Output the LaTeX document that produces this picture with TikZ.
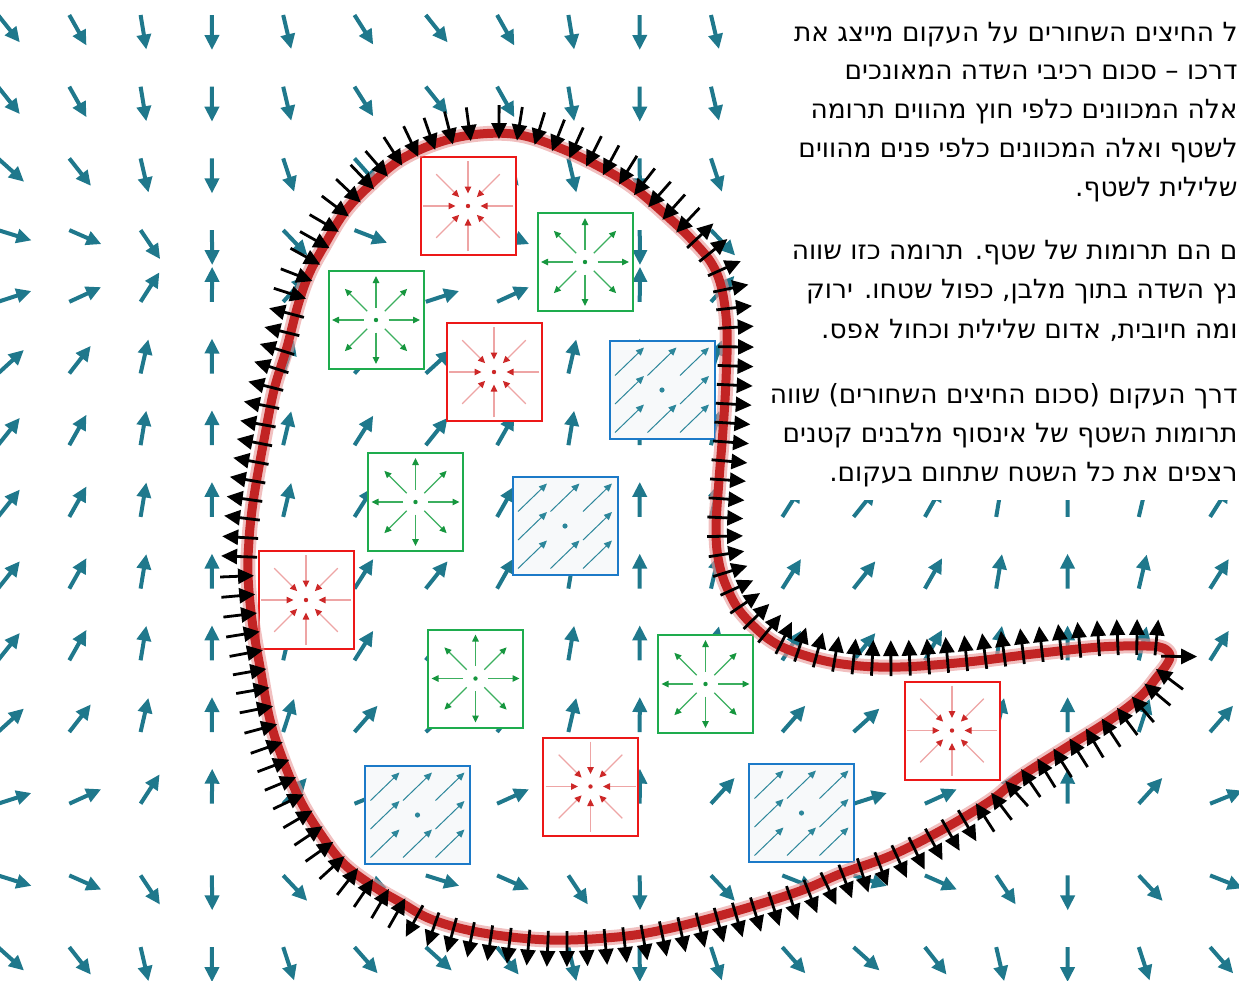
\documentclass[tikz,border=0pt]{standalone}
\usepackage{fontspec}
\newfontfamily\hebfont[Script=Hebrew]{DejaVu Sans}
\TeXXeTstate=1
\usetikzlibrary{arrows.meta}

\definecolor{fieldteal}{RGB}{31,120,140}
\definecolor{curvered}{RGB}{194,36,36}
\definecolor{curveglow}{RGB}{232,150,150}
\definecolor{sinkred}{RGB}{236,24,24}
\definecolor{sinkline}{RGB}{238,165,165}
\definecolor{sinkhead}{RGB}{205,40,40}
\definecolor{sourcegreen}{RGB}{30,172,78}
\definecolor{sourceline}{RGB}{60,175,95}
\definecolor{sourcehead}{RGB}{22,150,62}
\definecolor{flatblue}{RGB}{28,122,200}
\definecolor{flatfill}{RGB}{247,249,250}
\definecolor{flatteal}{RGB}{45,135,155}

\begin{document}
\begin{tikzpicture}[x=0.5pt,y=-0.5pt,
    declare function={
        fu(\x)=0.4*(1-cos((\x-205)/428*360));
        fw(\x)=0.4*(1-cos((\x-205-53*min(1,max(0,(520-\x)/80)))/428*360));
        fv(\y)=sin((\y-265)/1150*360);
        fs(\y)=max(-1,min(1,1.3*fv(\y)));
    },
    fieldarrow/.style={line width=2pt, fieldteal, -{Triangle[length=7.5pt,width=7pt]}},
    fluxarrow/.style={line width=1.4pt, black, -{Triangle[length=8pt,width=7.5pt]}},
    sinkbox/.style={draw=sinkred, fill=white, line width=1pt,
        minimum width=47.5pt, minimum height=49pt, inner sep=0pt},
    sourcebox/.style={sinkbox, draw=sourcegreen},
    flatbox/.style={sinkbox, draw=flatblue, fill=flatfill, minimum width=52.5pt},
    sinkarrow/.style={line width=0.6pt, sinkline, -{Triangle[length=3.5pt,width=3.2pt,color=sinkhead]}},
    sourcearrow/.style={line width=0.6pt, sourceline, -{Triangle[length=3.5pt,width=3.2pt,color=sourcehead]}},
    flatarrow/.style={line width=0.5pt, flatteal, -{Triangle[length=4pt,width=3.5pt]}},
    glowline/.style={line width=7.5pt, curveglow, opacity=.6, line join=round},
    curveline/.style={line width=4.5pt, curvered, line join=round},
    hebtext/.style={anchor=base east, inner sep=0pt,
        font=\hebfont\fontsize{13.2pt}{16pt}\selectfont}
]
    \useasboundingbox (0,0) rectangle (1239,981);

    % vector field
    \foreach \i in {0,...,17}
        \foreach \j in {0,...,13}{
            \pgfmathsetmacro\fx{-2+71.3*\i}
            \pgfmathsetmacro\fy{15+71.7*\j}
            \pgfmathsetmacro\fa{-atan2(fs(\fy),fu(\fx))}
            \draw[fieldarrow] (\fx,\fy) -- ++(\fa:35);
        }

    % background of the text
    \fill[white] (768,-5) rectangle (1245,500);

    % small squares
    \node[sinkbox] (r1) at (468,206) {};
    \node[sinkbox] (r2) at (494,372) {};
    \node[sinkbox] (r3) at (306,600) {};
    \node[sinkbox] (r4) at (590.5,786.5) {};
    \node[sinkbox] (r5) at (952,730.5) {};
    \node[sourcebox] (g1) at (585,262) {};
    \node[sourcebox] (g2) at (376,320) {};
    \node[sourcebox] (g3) at (415.5,502) {};
    \node[sourcebox] (g4) at (475.5,678.5) {};
    \node[sourcebox] (g5) at (705.5,684) {};
    \node[flatbox] (b1) at (662,390) {};
    \node[flatbox] (b2) at (565,526) {};
    \node[flatbox] (b3) at (417.5,815) {};
    \node[flatbox] (b4) at (801.5,813) {};

    \foreach \n in {r1,r2,r3,r4,r5}{
        \foreach \a in {0,45,...,315}
            \draw[sinkarrow] ([shift={(\a:45)}]\n.center) -- ([shift={(\a:12.5)}]\n.center);
        \fill[sinkhead] (\n.center) circle (2.2);
    }
    \foreach \n in {g1,g2,g3,g4,g5}{
        \foreach \a in {0,45,...,315}
            \draw[sourcearrow] ([shift={(\a:12.5)}]\n.center) -- ([shift={(\a:44)}]\n.center);
        \fill[sourcehead] (\n.center) circle (2.2);
    }
    \foreach \n in {b1,b2,b3,b4}{
        \foreach \dx/\dy in {-32.5/-28.5,0/-28.5,32.5/-28.5,-32.5/0,32.5/0,-32.5/28.5,0/28.5,32.5/28.5}
            \draw[flatarrow] ([shift={({\dx-14.5},{\dy+14})}]\n.center) -- ([shift={({\dx+14.5},{\dy-14})}]\n.center);
        \fill[flatteal] (\n.center) circle (2.6);
    }

    % points of the closed curve, clockwise from the top
    \foreach \px/\py [count=\c from 0] in {
        480/134, 520/135, 560/148, 600/167, 633/187, 667/216, 693/241,
        712/264, 722/290, 727/330, 726/380, 723/430, 719/480, 716/530,
        719/563, 728/590, 743/615, 773/642, 810/657, 850/665, 900/667,
        967/662, 1033/654, 1100/647, 1147/646, 1163/648, 1170/655,
        1167/664, 1157/677, 1140/697, 1110/720, 1067/747, 1020/777,
        990/801, 940/831, 890/856, 840/874, 800/891, 733/912, 667/929,
        617/937, 550/940, 483/933, 433/920, 400/902, 373/886, 343/863,
        320/833, 300/800, 283/760, 270/720, 260/667, 252/620, 248/575,
        249/540, 252/510, 257/478, 264/440, 274/390, 287/347, 298/305,
        309/274, 324/246, 344/213, 368/187, 400/160, 440/142}{
        \expandafter\xdef\csname bx\c\endcsname{\px}
        \expandafter\xdef\csname by\c\endcsname{\py}
        \xdef\bn{\c}
    }
    \pgfmathtruncatemacro\bcount{\bn+1}

    % control points (Catmull-Rom)
    \foreach \i in {0,...,\bn}{
        \pgfmathtruncatemacro\ja{mod(\i+\bn,\bcount)}
        \pgfmathtruncatemacro\jc{mod(\i+1,\bcount)}
        \pgfmathtruncatemacro\jd{mod(\i+2,\bcount)}
        \edef\xa{\csname bx\ja\endcsname}\edef\ya{\csname by\ja\endcsname}
        \edef\xb{\csname bx\i\endcsname}\edef\yb{\csname by\i\endcsname}
        \edef\xc{\csname bx\jc\endcsname}\edef\yc{\csname by\jc\endcsname}
        \edef\xd{\csname bx\jd\endcsname}\edef\yd{\csname by\jd\endcsname}
        \pgfmathsetmacro\kx{\xb+(\xc-\xa)/6}
        \pgfmathsetmacro\ky{\yb+(\yc-\ya)/6}
        \pgfmathsetmacro\lx{\xc-(\xd-\xb)/6}
        \pgfmathsetmacro\ly{\yc-(\yd-\yb)/6}
        \expandafter\xdef\csname kx\i\endcsname{\kx}
        \expandafter\xdef\csname ky\i\endcsname{\ky}
        \expandafter\xdef\csname lx\i\endcsname{\lx}
        \expandafter\xdef\csname ly\i\endcsname{\ly}
        \coordinate (k\i) at (\kx,\ky);
        \coordinate (l\i) at (\lx,\ly);
        \coordinate (d\i) at (\xc,\yc);
    }
    \coordinate (c0) at (480,134);

    \draw[glowline] (c0) \foreach \i in {0,...,\bn}{ .. controls (k\i) and (l\i) .. (d\i)} -- cycle;
    \draw[curveline] (c0) \foreach \i in {0,...,\bn}{ .. controls (k\i) and (l\i) .. (d\i)} -- cycle;

    % black arrows every 19px along the curve, outward or inward
    \xdef\acc{0}
    \foreach \i in {0,...,\bn}{
        \pgfmathtruncatemacro\jc{mod(\i+1,\bcount)}
        \edef\xb{\csname bx\i\endcsname}\edef\yb{\csname by\i\endcsname}
        \edef\xc{\csname bx\jc\endcsname}\edef\yc{\csname by\jc\endcsname}
        \edef\kx{\csname kx\i\endcsname}\edef\ky{\csname ky\i\endcsname}
        \edef\lx{\csname lx\i\endcsname}\edef\ly{\csname ly\i\endcsname}
        \xdef\qx{\xb}\xdef\qy{\yb}
        \foreach \s in {1,...,12}{
            \pgfmathsetmacro\bt{\s/12}
            \pgfmathsetmacro\rx{(1-\bt)^3*\xb+3*(1-\bt)^2*\bt*\kx+3*(1-\bt)*\bt^2*\lx+\bt^3*\xc}
            \pgfmathsetmacro\ry{(1-\bt)^3*\yb+3*(1-\bt)^2*\bt*\ky+3*(1-\bt)*\bt^2*\ly+\bt^3*\yc}
            \pgfmathsetmacro\dd{veclen(\rx-\qx,\ry-\qy)}
            \pgfmathsetmacro\nacc{\acc+\dd}
            \ifdim\nacc pt<19pt
                \xdef\acc{\nacc}
            \else
                \pgfmathsetmacro\ff{(19-\acc)/\dd}
                \pgfmathsetmacro\mx{\qx+\ff*(\rx-\qx)}
                \pgfmathsetmacro\my{\qy+\ff*(\ry-\qy)}
                \pgfmathsetmacro\ntx{(\rx-\qx)/\dd}
                \pgfmathsetmacro\nty{(\ry-\qy)/\dd}
                \pgfmathsetmacro\flux{fw(\mx)*\nty+fv(\my)*\ntx}
                \ifdim\flux pt<0pt
                    \draw[fluxarrow] ({\mx+28*\nty},{\my-28*\ntx}) -- ({\mx-6*\nty},{\my+6*\ntx});
                \else
                    \draw[fluxarrow] ({\mx-9*\nty},{\my+9*\ntx}) -- ({\mx+27*\nty},{\my-27*\ntx});
                \fi
                \pgfmathsetmacro\nacc{\nacc-19}
                \xdef\acc{\nacc}
            \fi
            \xdef\qx{\rx}\xdef\qy{\ry}
        }
    }

    % text
    \foreach \k/\ty/\tl in {
        1/41/{ל החיצים השחורים על העקום מייצג את},
        2/79.5/{דרכו – סכום רכיבי השדה המאונכים},
        3/118/{אלה המכוונים כלפי חוץ מהווים תרומה},
        4/157/{לשטף ואלה המכוונים כלפי פנים מהווים},
        5/196/{שלילית לשטף.},
        6/259/{ם הם תרומות של שטף. תרומה כזו שווה},
        7/298.5/{נץ השדה בתוך מלבן, כפול שטחו. ירוק},
        8/338/{ומה חיובית, אדום שלילית וכחול אפס.},
        9/403.5/{דרך העקום (סכום החיצים השחורים) שווה},
        10/442.5/{תרומות השטף של אינסוף מלבנים קטנים},
        11/481/{רצפים את כל השטח שתחום בעקום.}}
        \node[hebtext] (t\k) at (1238,\ty) {\beginR\tl\endR};
\end{tikzpicture}
\end{document}
